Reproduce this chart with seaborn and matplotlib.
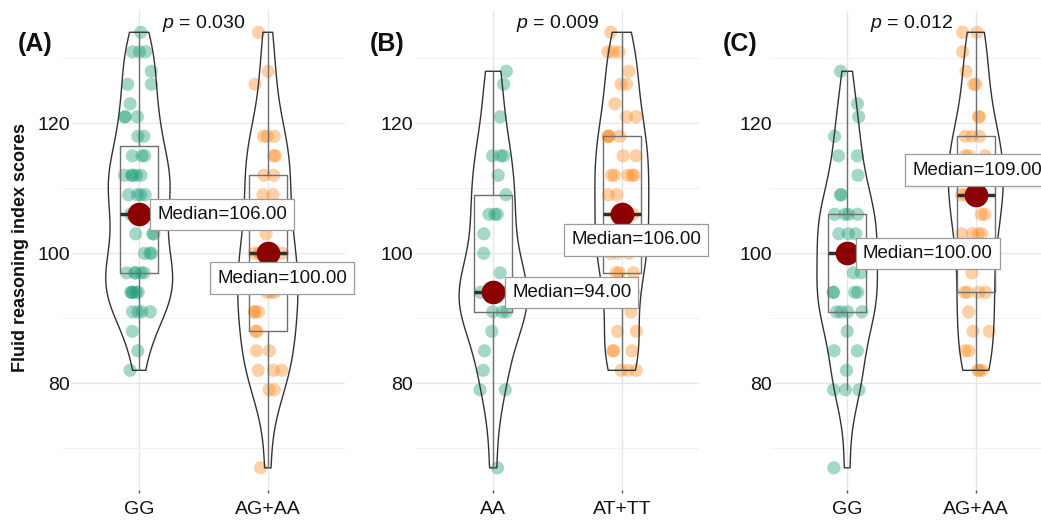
import numpy as np
import pandas as pd
import matplotlib
matplotlib.use("Agg")
import matplotlib.pyplot as plt
import seaborn as sns
from matplotlib.ticker import FixedLocator

sns.set_theme(style="white")
plt.rcParams['font.family'] = ['Liberation Sans', 'DejaVu Sans']
plt.rcParams['mathtext.fontset'] = 'custom'
plt.rcParams['mathtext.it'] = 'Liberation Sans:italic'
plt.rcParams['mathtext.rm'] = 'Liberation Sans'

# ---------------- data ----------------
panel_tags = ["(A)", "(B)", "(C)"]
p_values = ["0.030", "0.009", "0.012"]
group_labels = [["GG", "AG+AA"], ["AA", "AT+TT"], ["GG", "AG+AA"]]
y_label = "Fluid reasoning index scores"
y_ticks = [80, 100, 120]
y_minor = [70, 90, 110, 130]

a_gg = [134, 131, 131, 131, 128, 126, 126, 123, 121, 121, 121, 118, 118,
        115, 115, 115, 112, 112, 112, 112, 112, 109, 109, 109, 109,
        106, 106, 106, 103, 103, 103, 100, 100, 100, 97, 97, 97, 97, 97,
        94, 94, 94, 94, 94, 91, 91, 91, 91, 88, 85, 82]
a_agaa = [134, 128, 126, 118, 118, 118, 115, 115, 112, 112, 109, 109,
          106, 106, 103, 100, 100, 100, 100, 97, 97, 94, 94, 94, 91, 91, 91,
          88, 88, 85, 85, 82, 82, 82, 79, 79, 67]
b_aa = [128, 126, 121, 115, 115, 115, 112, 109, 106, 106, 106, 103, 100,
        97, 94, 94, 94, 94, 94, 94, 91, 91, 91, 88, 85, 82, 79, 79, 67]
b_attt = [134, 131, 131, 131, 128, 126, 126, 123, 121, 121, 118, 118, 118,
          118, 115, 115, 112, 112, 112, 112, 112, 109, 109, 106, 106, 106,
          103, 103, 103, 103, 100, 100, 100, 97, 97, 97, 94, 94, 91, 88, 88,
          85, 85, 85, 82, 82, 82]
c_gg = [128, 123, 121, 118, 115, 115, 112, 109, 109, 106, 106, 106, 106,
        103, 103, 103, 100, 100, 100, 97, 97, 94, 94, 94, 94, 91, 91, 91, 91,
        88, 85, 85, 82, 79, 79, 79, 67]
c_agaa = [134, 134, 131, 128, 126, 126, 121, 121, 118, 118, 118, 115, 115,
          115, 112, 112, 112, 112, 109, 109, 109, 106, 106, 103, 103, 103,
          103, 100, 97, 94, 94, 94, 94, 91, 88, 88, 85, 85, 82, 82, 82]

panel_values = [[a_gg, a_agaa], [b_aa, b_attt], [c_gg, c_agaa]]

# ---------------- style / layout ----------------
GREEN = "#1B9E77"
ORANGE = "#FF8A1F"
MED_RED = "#8B0000"
label_offsets = [[(0.647, 0.0), (0.11, -3.8)],
                 [(0.61, 0.0), (0.11, -3.95)],
                 [(0.626, 0.0), (0.01, 3.8)]]
tick_pads = [-5.5, 2.0, -1.5]
violin_widths = [0.52, 0.53, 0.47]

W, H = 1041, 521
fig = plt.figure(figsize=(W / 100, H / 100), dpi=100)
ax_left_px = [62, 416, 770]
ax_w_px = 283
bottom_px, top_px = 489.6, 10.5
tag_x_px = [18, 370, 723]

np.random.seed(3)
for k in range(3):
    ax = fig.add_axes([ax_left_px[k] / W, 1 - bottom_px / H,
                       ax_w_px / W, (bottom_px - top_px) / H])
    labs = group_labels[k]
    rows = []
    for lab, vals in zip(labs, panel_values[k]):
        rows += [(lab, v) for v in vals]
    df = pd.DataFrame(rows, columns=["g", "v"])
    pal = {labs[0]: GREEN, labs[1]: ORANGE}

    sns.stripplot(data=df, x="g", y="v", order=labs, hue="g", hue_order=labs,
                  palette=pal, jitter=0.12, size=9.5, alpha=0.4, linewidth=0,
                  legend=False, ax=ax, zorder=1)
    sns.violinplot(data=df, x="g", y="v", order=labs, cut=0, inner=None,
                   fill=False, color="#333333", linewidth=1.0,
                   width=violin_widths[k], bw_adjust=0.75,
                   density_norm="area", ax=ax)
    sns.boxplot(data=df, x="g", y="v", order=labs, width=0.3, fill=False,
                color="#707070", linewidth=1.0, showfliers=False,
                showcaps=False, whis=1.5,
                medianprops={"color": "#303030", "linewidth": 2.5}, ax=ax)
    n_before = len(ax.lines)
    sns.pointplot(data=df, x="g", y="v", order=labs, estimator="median",
                  errorbar=None, color=MED_RED, markers="o", markersize=15,
                  linestyle="none", ax=ax)
    for ln in ax.lines[n_before:]:
        ln.set_zorder(5)

    for i, vals in enumerate(panel_values[k]):
        med = float(np.median(vals))
        dx, dy = label_offsets[k][i]
        ax.text(i + dx, med + dy, f"Median={med:.2f}", ha="center",
                va="center", fontsize=13.5, color="#111111", zorder=7,
                clip_on=False,
                bbox=dict(boxstyle="square,pad=0.38", fc="white",
                          ec="#9a9a9a", lw=0.9))

    ax.text(0.5, 135.3, r"$p$ = " + p_values[k], ha="center", va="center",
            fontsize=14, color="#111111", zorder=8)

    ax.set_xlim(-0.6, 1.6)
    ax.set_ylim(63.65, 137.35)
    ax.set_yticks(y_ticks)
    ax.yaxis.set_minor_locator(FixedLocator(y_minor))
    ax.grid(which="major", axis="both", color="#E6E6E6", lw=1.0)
    ax.grid(which="minor", axis="y", color="#F1F1F1", lw=0.8)
    ax.set_axisbelow(True)
    for s in ax.spines.values():
        s.set_visible(False)
    ax.set_xlabel("")
    ax.set_ylabel("")
    ax.tick_params(axis="x", length=2, width=1, color="#555555", pad=6,
                   labelsize=14, labelcolor="#111111", bottom=True)
    ax.tick_params(axis="y", which="both", length=0, pad=tick_pads[k],
                   labelsize=14, labelcolor="#111111")
    for t in ax.get_yticklabels():
        t.set_bbox(dict(fc="white", ec="none", pad=1.5))

    fig.text(tag_x_px[k] / W, 1 - 44 / H, panel_tags[k], fontsize=18,
             fontweight="bold", ha="left", va="center", color="#111111")

fig.text(21 / W, 1 - 248 / H, y_label, rotation=90, fontsize=13,
         fontweight="bold", ha="center", va="center", color="#111111")

fig.savefig("out.png", dpi=100, facecolor="white")
